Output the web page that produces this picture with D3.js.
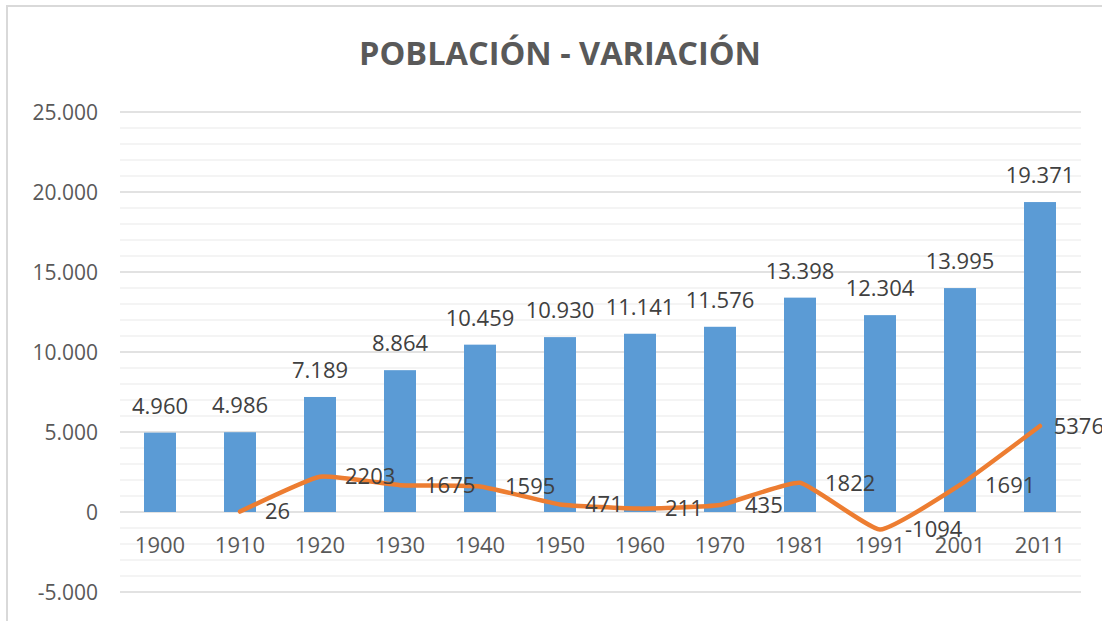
<!DOCTYPE html>
<meta charset="utf-8">
<style>
body { margin: 0; background: #fff; }
text { font-family: "Open Sans", sans-serif; }
.grid-minor line { stroke: #f0f0f0; stroke-width: 1.5px; }
.grid-major line { stroke: #d9d9d9; stroke-width: 1.5px; }
.axis text { fill: #595959; }
</style>
<svg class="chart" width="1102" height="621"></svg>
<script src="https://d3js.org/d3.v7.min.js"></script>
<script>

var years = ["1900", "1910", "1920", "1930", "1940", "1950", "1960", "1970", "1981", "1991", "2001", "2011"];
var poblacion = [4960, 4986, 7189, 8864, 10459, 10930, 11141, 11576, 13398, 12304, 13995, 19371];
var variacion = [null, 26, 2203, 1675, 1595, 471, 211, 435, 1822, -1094, 1691, 5376];
var yTicks = [-5000, 0, 5000, 10000, 15000, 20000, 25000];

var svg = d3.select(".chart"),
    width = +svg.attr("width"),
    height = +svg.attr("height");

var plotLeft = 120, plotRight = 1080, plotTop = 112, plotBottom = 592;

var es = d3.formatLocale({decimal: ",", thousands: ".", grouping: [3], currency: ["", "€"], minus: "-"});
var fmt = es.format(",d");

var x = d3.scaleBand().domain(years).range([plotLeft, plotRight]).paddingInner(0.6).paddingOuter(0.3);
var y = d3.scaleLinear().domain([-5000, 25000]).range([plotBottom, plotTop]);

// chart border
svg.append("rect")
    .attr("x", 7).attr("y", 6)
    .attr("width", width + 20).attr("height", height + 20)
    .attr("fill", "#fff")
    .attr("stroke", "#d9d9d9")
    .attr("stroke-width", 2);

// title
svg.append("text")
    .attr("x", 560).attr("y", 65)
    .attr("text-anchor", "middle")
    .attr("font-size", 32.5)
    .attr("font-weight", "bold")
    .attr("fill", "#595959")
    .text("POBLACIÓN - VARIACIÓN");

// gridlines
svg.append("g").attr("class", "grid-minor")
  .selectAll("line")
  .data(d3.range(-5000, 25001, 1000).filter(function(d) { return d % 5000 !== 0; }))
  .enter().append("line")
    .attr("x1", plotLeft).attr("x2", plotRight + 1)
    .attr("y1", function(d) { return y(d); })
    .attr("y2", function(d) { return y(d); });

svg.append("g").attr("class", "grid-major")
  .selectAll("line")
  .data(yTicks)
  .enter().append("line")
    .attr("x1", plotLeft).attr("x2", plotRight + 1)
    .attr("y1", function(d) { return y(d); })
    .attr("y2", function(d) { return y(d); });

// y axis labels
var yAxis = d3.axisLeft(y).tickValues(yTicks).tickSize(0).tickPadding(0).tickFormat(fmt);
var gy = svg.append("g").attr("class", "axis")
    .attr("transform", "translate(98,0)")
    .call(yAxis);
gy.select(".domain").remove();
gy.selectAll("text").attr("font-size", 21).attr("font-family", "Open Sans").attr("dy", "0.35em");

// bars
svg.append("g")
  .selectAll("rect")
  .data(poblacion)
  .enter().append("rect")
    .attr("x", function(d, i) { return x(years[i]); })
    .attr("width", x.bandwidth())
    .attr("y", function(d) { return y(d); })
    .attr("height", function(d) { return y(0) - y(d); })
    .attr("fill", "#5b9bd5");

// x axis labels (at the zero line)
var xAxis = d3.axisBottom(x).tickSize(0).tickPadding(0);
var gx = svg.append("g").attr("class", "axis")
    .attr("transform", "translate(0," + (y(0) + 41) + ")")
    .call(xAxis);
gx.select(".domain").remove();
gx.selectAll("text").attr("font-size", 22).attr("font-family", "Open Sans").attr("dy", 0);

// bar labels
svg.append("g")
  .selectAll("text")
  .data(poblacion)
  .enter().append("text")
    .attr("x", function(d, i) { return x(years[i]) + x.bandwidth() / 2; })
    .attr("y", function(d) { return y(d) - 19; })
    .attr("text-anchor", "middle")
    .attr("font-size", 22)
    .attr("fill", "#404040")
    .text(function(d) { return fmt(d); });

// variation line
var pts = variacion.map(function(v, i) { return {year: years[i], v: v}; })
    .filter(function(d) { return d.v !== null; });
var cx = function(d) { return x(d.year) + x.bandwidth() / 2; };

var line = d3.line()
    .x(cx)
    .y(function(d) { return y(d.v); })
    .curve(d3.curveCardinal.tension(0.6));

svg.append("path")
    .datum(pts)
    .attr("fill", "none")
    .attr("stroke", "#ed7d31")
    .attr("stroke-width", 4.5)
    .attr("stroke-linejoin", "round")
    .attr("stroke-linecap", "round")
    .attr("d", line);

// line labels, right of the point
svg.append("g")
  .selectAll("text")
  .data(pts)
  .enter().append("text")
    .attr("y", function(d) { return y(d.v); })
    .attr("dy", "0.35em")
    .attr("font-size", 22)
    .attr("fill", "#404040")
    .text(function(d) { return d.v; })
    .attr("x", function(d) {
      var w = this.getComputedTextLength();
      return Math.min(cx(d) + 25, 1104 - w);
    });

</script>
